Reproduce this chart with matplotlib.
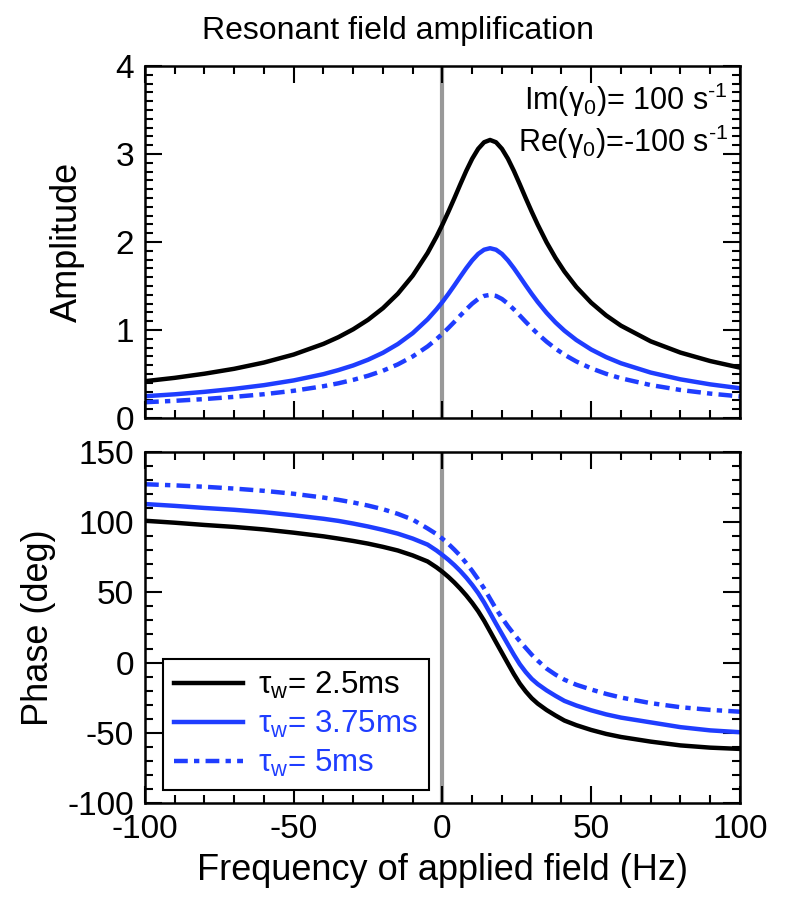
import matplotlib
matplotlib.use("Agg")
import matplotlib.pyplot as plt
from matplotlib.ticker import MultipleLocator

plt.rcParams['font.family'] = ['Liberation Sans', 'DejaVu Sans']
plt.rcParams['mathtext.fontset'] = 'custom'
plt.rcParams['mathtext.rm'] = 'Liberation Sans'
plt.rcParams['mathtext.it'] = 'Liberation Sans:italic'
plt.rcParams['axes.unicode_minus'] = False

# frequency of applied field (Hz)
freq = [-100, -90, -80, -70, -60, -50, -40, -35, -30, -25, -20, -15, -10, -5, -2,
        0, 2, 4, 6, 8, 10, 12, 14, 16, 18, 20, 22, 24, 26, 28, 30, 32, 35, 38, 41,
        45, 50, 55, 60, 70, 80, 90, 100]

# amplitude
amp_25 = [0.419, 0.457, 0.504, 0.560, 0.631, 0.722, 0.843, 0.919, 1.009, 1.117,
          1.249, 1.413, 1.618, 1.876, 2.062, 2.199, 2.345, 2.498, 2.656, 2.809,
          2.947, 3.059, 3.134, 3.160, 3.134, 3.059, 2.947, 2.809, 2.656, 2.498,
          2.345, 2.199, 1.997, 1.820, 1.665, 1.490, 1.311, 1.167, 1.050, 0.872,
          0.744, 0.648, 0.573]
amp_375 = [0.248, 0.270, 0.298, 0.332, 0.374, 0.428, 0.499, 0.545, 0.598, 0.663,
           0.742, 0.841, 0.965, 1.122, 1.236, 1.320, 1.411, 1.507, 1.606, 1.703,
           1.792, 1.865, 1.913, 1.930, 1.913, 1.865, 1.792, 1.703, 1.606, 1.507,
           1.411, 1.320, 1.196, 1.087, 0.993, 0.887, 0.779, 0.693, 0.623, 0.517,
           0.440, 0.383, 0.339]
amp_5 = [0.180, 0.196, 0.216, 0.241, 0.271, 0.310, 0.362, 0.395, 0.434, 0.481,
         0.538, 0.610, 0.700, 0.814, 0.897, 0.958, 1.024, 1.093, 1.165, 1.235,
         1.300, 1.353, 1.388, 1.400, 1.388, 1.353, 1.300, 1.235, 1.165, 1.093,
         1.024, 0.958, 0.868, 0.789, 0.720, 0.643, 0.565, 0.503, 0.452, 0.375,
         0.319, 0.278, 0.246]

# phase (deg)
ph_25 = [101.0, 99.6, 98.0, 96.6, 94.8, 92.5, 89.9, 88.3, 86.6, 84.7, 82.4, 79.8,
         76.3, 72.0, 67.8, 64.6, 61.0, 57.0, 52.6, 47.8, 42.5, 36.6, 29.8, 22.2,
         14.5, 6.9, -0.7, -8.2, -15.0, -20.6, -25.4, -29.2, -33.8, -37.7, -41.3,
         -44.6, -48.0, -50.8, -53.0, -56.3, -59.0, -60.6, -61.5]
ph_375 = [112.9, 111.6, 110.1, 108.8, 107.1, 104.9, 102.4, 100.9, 99.0, 96.9, 94.5,
          91.8, 88.3, 84.0, 79.8, 76.6, 73.2, 69.4, 65.2, 60.5, 55.3, 49.5, 42.8,
          35.3, 27.7, 20.3, 12.9, 5.6, -1.2, -6.8, -11.6, -15.3, -19.8, -23.7,
          -27.3, -30.6, -34.0, -36.9, -39.2, -42.6, -46.0, -48.3, -49.6]
ph_5 = [127.0, 126.2, 125.2, 123.9, 122.3, 120.2, 117.5, 115.9, 114.0, 111.8, 109.2,
        105.9, 101.8, 95.5, 91.5, 88.2, 84.5, 80.4, 76.0, 70.8, 65.3, 59.3, 52.8,
        45.5, 38.3, 31.8, 25.8, 20.3, 15.2, 10.4, 5.6, 1.4, -4.3, -8.6, -12.2,
        -15.8, -19.2, -22.3, -24.9, -28.9, -31.8, -33.7, -35.0]

labels = [r'τ$_\mathrm{w}$= 2.5ms', r'τ$_\mathrm{w}$= 3.75ms', r'τ$_\mathrm{w}$= 5ms']

blue = '#1f3dff'
dashdot = (0, (3.1, 1.4, 1.2, 1.4))
lw = 3.2


def style_axis(ax, ymajor, yminor):
    ax.set_xlim(-100, 100)
    ax.xaxis.set_major_locator(MultipleLocator(50))
    ax.xaxis.set_minor_locator(MultipleLocator(10))
    ax.yaxis.set_major_locator(MultipleLocator(ymajor))
    ax.yaxis.set_minor_locator(MultipleLocator(yminor))
    ax.tick_params(which='both', direction='in', top=True, right=True,
                   width=1.5, labelsize=24, pad=8)
    ax.tick_params(which='major', length=12)
    ax.tick_params(which='minor', length=6)
    for s in ax.spines.values():
        s.set_linewidth(1.8)
    ax.axvline(0, color='#999999', lw=3, zorder=1)


fig = plt.figure(figsize=(7.88, 9.01), dpi=100)
ax1 = fig.add_axes([0.184, 0.536, 0.755, 0.3907])
ax2 = fig.add_axes([0.184, 0.1088, 0.755, 0.3896])

# amplitude panel
ax1.plot(freq, amp_25, color='black', lw=lw)
ax1.plot(freq, amp_375, color=blue, lw=lw)
ax1.plot(freq, amp_5, color=blue, lw=lw, linestyle=dashdot)
ax1.set_ylim(0, 4)
style_axis(ax1, 1, 0.1)
ax1.tick_params(labelbottom=False)
ax1.set_ylabel('Amplitude', fontsize=26, labelpad=22)
ax1.text(0.98, 0.903, 'Im(γ$_\\mathrm{0}$)= 100 s$^\\mathrm{\u20101}$', transform=ax1.transAxes,
         ha='right', va='center', fontsize=22)
ax1.text(0.98, 0.784, 'Re(γ$_\\mathrm{0}$)=-100 s$^\\mathrm{\u20101}$', transform=ax1.transAxes,
         ha='right', va='center', fontsize=22)

# phase panel
l1, = ax2.plot(freq, ph_25, color='black', lw=lw)
l2, = ax2.plot(freq, ph_375, color=blue, lw=lw)
l3, = ax2.plot(freq, ph_5, color=blue, lw=lw, linestyle=dashdot)
ax2.set_ylim(-100, 150)
style_axis(ax2, 50, 10)
ax2.set_ylabel('Phase (deg)', fontsize=26, labelpad=8)
ax2.set_xlabel('Frequency of applied field (Hz)', fontsize=26, labelpad=6)

leg = ax2.legend([l1, l2, l3], labels, loc='lower left', bbox_to_anchor=(0.03, 0.037),
                 borderaxespad=0, fontsize=22.5, handlelength=2.2, labelspacing=0.25,
                 handletextpad=0.5, fancybox=False, framealpha=1, borderpad=0.35)
leg.get_frame().set_edgecolor('black')
leg.get_frame().set_linewidth(1.5)
for t, c in zip(leg.get_texts(), ['black', blue, blue]):
    t.set_color(c)

fig.text(0.505, 0.966, 'Resonant field amplification', ha='center', va='center',
         fontsize=23)

fig.savefig('out.png', dpi=100)
